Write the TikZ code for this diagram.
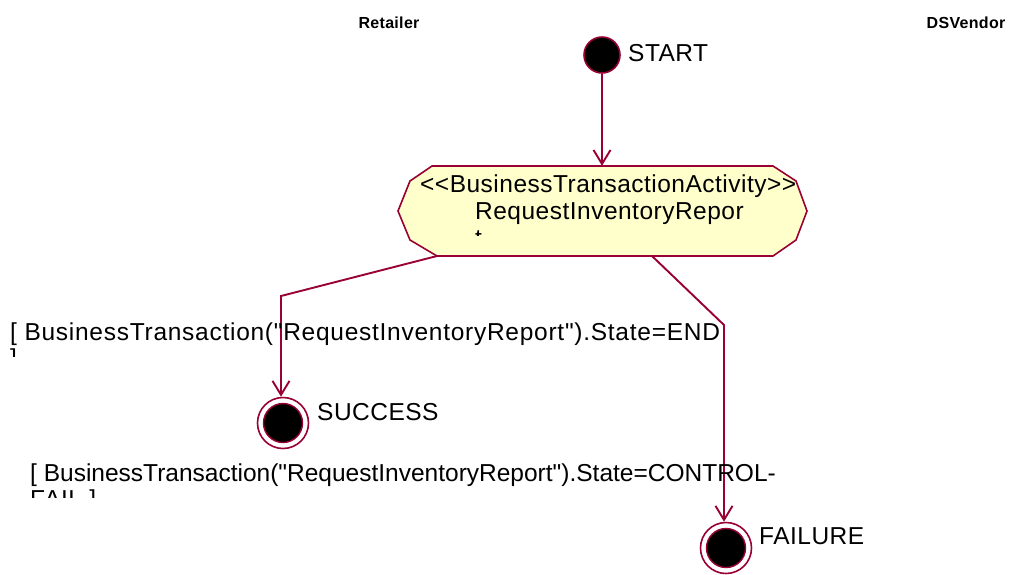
\documentclass[tikz,border=0pt]{standalone}
\usepackage{fontspec}
\setmainfont{Liberation Sans}[Ligatures=TeXOff,LetterSpace=2]
\usepackage{xcolor}
\usepackage{tikz}
\usetikzlibrary{calc}
\usetikzlibrary{arrows.meta}

\definecolor{roseline}{RGB}{153,0,51}
\definecolor{actfill}{RGB}{255,255,204}

\newcommand{\dq}{\symbol{34}}

\tikzset{
  flow/.style={draw=roseline,line width=1.9pt,-{Straight Barb[length=14pt,width=17pt,line width=1.9pt]}},
  txt/.style={inner sep=0pt,anchor=base west,font=\fontsize{24.5}{28}\selectfont},
  lane/.style={inner sep=0pt,font=\bfseries\fontsize{16}{18}\selectfont},
}

\begin{document}
\begin{tikzpicture}[x=1pt,y=-1pt]
\useasboundingbox (0,0) rectangle (1025,574);

% swimlane titles
\node[lane] (retailer) at (389,23) {Retailer};
\node[lane] (vendor) at (966,23) {DSVendor};

% initial state
\node[circle,fill=black,draw=roseline,line width=1.6pt,minimum size=36pt,inner sep=0pt] (start) at (602,55) {};
\node[txt,anchor=west] (startlbl) at (628,53) {START};

% business transaction activity
\filldraw[fill=actfill,draw=roseline,line width=1.6pt]
  (432,166) -- (773,166) -- (796,181) -- (807,211) -- (796,240) -- (773,256)
  -- (437,256) -- (410,240) -- (398,211) -- (410,181) -- cycle;
\node[inner sep=0pt,minimum width=409pt,minimum height=90pt] (act) at (602,211) {};
\node[txt] (stereo) at (420,192) {<{}<BusinessTransactionActivity>{}>};
\node[txt] (actname) at (475,219) {RequestInventoryRepor};
\begin{scope}
  \clip (470,220) rectangle (490,235.5);
  \node[txt] (actcut) at (475,246) {t};
\end{scope}

% final states
\node[circle,draw=roseline,line width=1.6pt,minimum size=51pt,inner sep=0pt] (success) at (283,423) {};
\node[circle,fill=black,draw=roseline,line width=1.4pt,minimum size=39pt,inner sep=0pt] at (success) {};
\node[txt,anchor=west] (successlbl) at (317,412) {SUCCESS};

\node[circle,draw=roseline,line width=1.6pt,minimum size=51pt,inner sep=0pt] (failure) at (726,548) {};
\node[circle,fill=black,draw=roseline,line width=1.4pt,minimum size=39pt,inner sep=0pt] at (failure) {};
\node[txt,anchor=west] (failurelbl) at (759,536) {FAILURE};

% transitions
\coordinate (outok) at (437,256);
\coordinate (outfail) at (652,256);
\coordinate (bendok) at (281,296);
\coordinate (bendfail) at (724,325);
\draw[flow] (start) -- (act.north -| start);
\draw[flow] (outok) -- (bendok) -- (bendok |- success.north);
\draw[flow] (outfail) -- (bendfail) -- (bendfail |- failure.north);

% guards
\node[txt,font=\fontsize{24.5}{28}\selectfont\addfontfeature{LetterSpace=3}] (guardok) at (10,340) {[ BusinessTransaction(\dq RequestInventoryReport\dq).State=END};
\begin{scope}
  \clip (0,345) rectangle (60,356);
  \node[txt] (guardokcut) at (10,366) {]};
\end{scope}
\node[txt,font=\fontsize{24.5}{28}\selectfont\addfontfeature{LetterSpace=0}] (guardfail) at (30,481) {[ BusinessTransaction(\dq RequestInventoryReport\dq).State=CONTROL-};
\begin{scope}
  \clip (0,486) rectangle (160,497);
  \node[txt] (guardfailcut) at (30,507) {FAIL ]};
\end{scope}
\end{tikzpicture}
\end{document}
